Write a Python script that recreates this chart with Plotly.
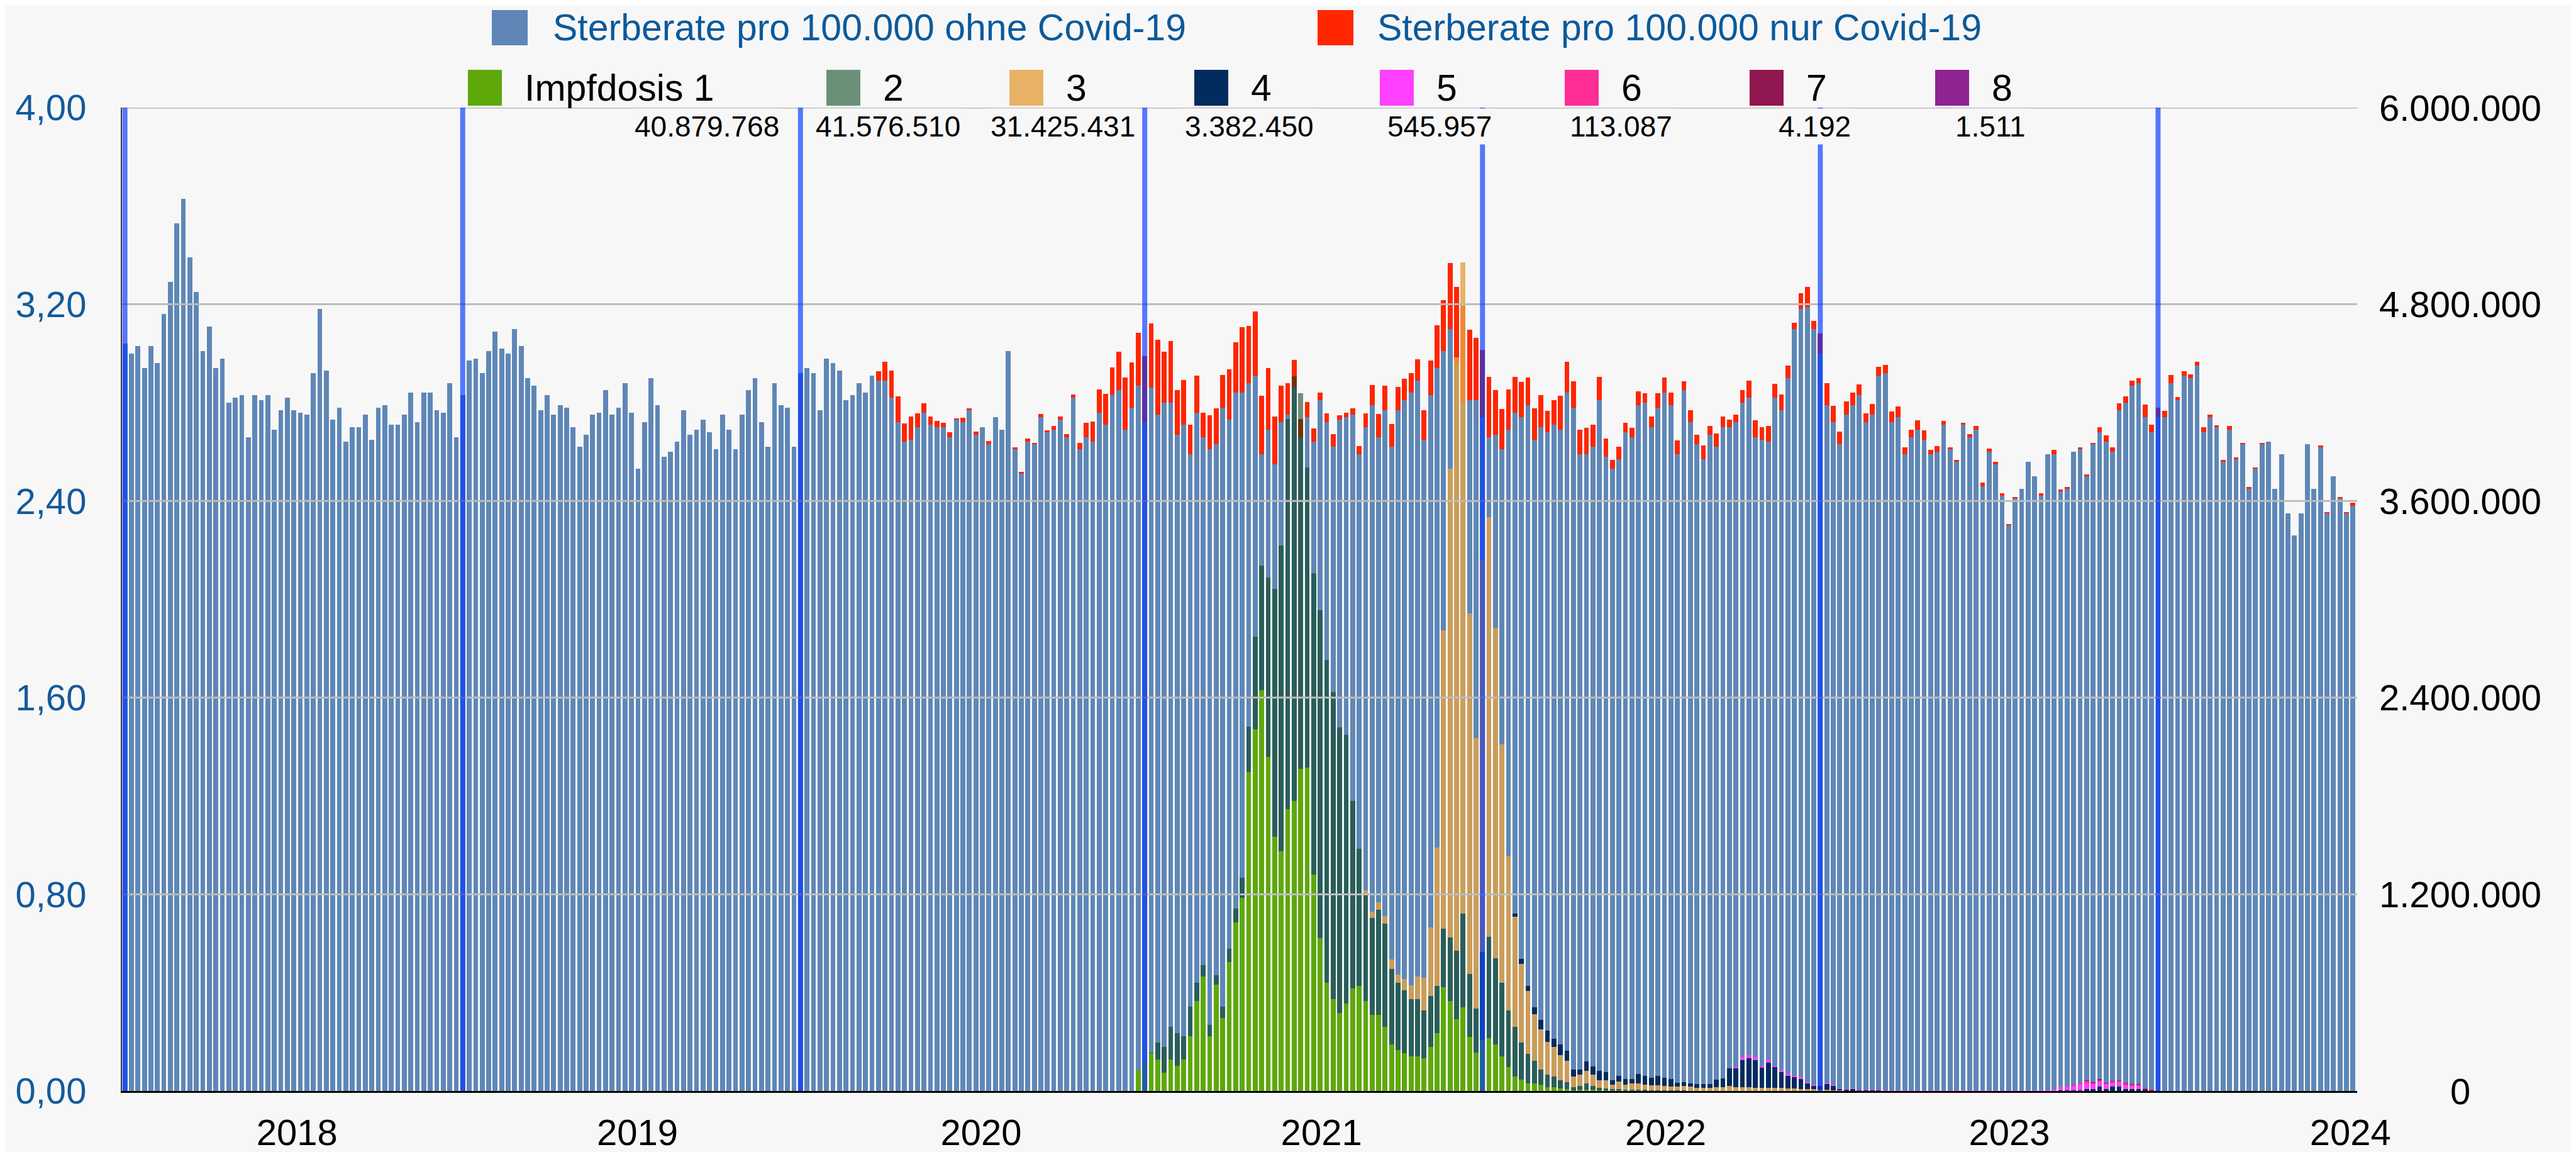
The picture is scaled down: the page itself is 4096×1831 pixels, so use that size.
import plotly.graph_objects as go

# ---------------- data ----------------
# weekly death rate per 100,000 without Covid-19 (week index 0 = first week of 2018)
sterberate_ohne = [
    3.04, 3.00, 3.03, 2.94, 3.03, 2.96, 3.16, 3.29, 3.53, 3.63,
    3.39, 3.25, 3.01, 3.11, 2.94, 2.98, 2.80, 2.82, 2.83, 2.66,
    2.83, 2.81, 2.83, 2.69, 2.77, 2.82, 2.77, 2.76, 2.75, 2.92,
    3.18, 2.93, 2.73, 2.78, 2.64, 2.70, 2.70, 2.75, 2.65, 2.78,
    2.79, 2.71, 2.71, 2.75, 2.84, 2.72, 2.84, 2.84, 2.77, 2.76,
    2.88, 2.66, 2.83, 2.97, 2.98, 2.92, 3.01, 3.09, 3.02, 3.00,
    3.10, 3.03, 2.90, 2.87, 2.77, 2.83, 2.75, 2.79, 2.78, 2.70,
    2.62, 2.67, 2.75, 2.76, 2.85, 2.75, 2.78, 2.88, 2.76, 2.53,
    2.72, 2.90, 2.79, 2.58, 2.60, 2.64, 2.77, 2.67, 2.69, 2.73,
    2.68, 2.61, 2.75, 2.69, 2.61, 2.75, 2.85, 2.90, 2.72, 2.62,
    2.88, 2.79, 2.78, 2.62, 2.92, 2.94, 2.92, 2.77, 2.98, 2.96,
    2.93, 2.81, 2.83, 2.88, 2.84, 2.91, 2.89, 2.89, 2.82, 2.72,
    2.64, 2.65, 2.70, 2.76, 2.71, 2.70, 2.70, 2.66, 2.73, 2.72,
    2.77, 2.67, 2.70, 2.63, 2.74, 2.69, 3.01, 2.61, 2.51, 2.64,
    2.63, 2.74, 2.68, 2.69, 2.73, 2.66, 2.82, 2.61, 2.66, 2.64,
    2.76, 2.71, 2.83, 2.85, 2.69, 2.78, 2.87, 2.72, 2.86, 2.75,
    2.80, 2.80, 2.67, 2.71, 2.59, 2.76, 2.66, 2.61, 2.63, 2.78,
    2.73, 2.84, 2.84, 2.88, 2.91, 2.59, 2.69, 2.55, 2.72, 2.75,
    2.86, 2.66, 2.74, 2.64, 2.81, 2.72, 2.62, 2.73, 2.74, 2.75,
    2.59, 2.70, 2.79, 2.66, 2.77, 2.62, 2.77, 2.81, 2.84, 2.89,
    2.65, 2.83, 2.94, 3.01, 3.10, 2.95, 2.80, 2.81, 2.81, 2.74,
    2.66, 2.67, 2.61, 2.69, 2.76, 2.74, 2.79, 2.65, 2.70, 2.68,
    2.71, 2.69, 2.84, 2.78, 2.59, 2.59, 2.62, 2.81, 2.58, 2.53,
    2.57, 2.68, 2.66, 2.79, 2.80, 2.70, 2.78, 2.84, 2.79, 2.59,
    2.85, 2.72, 2.63, 2.57, 2.67, 2.62, 2.70, 2.70, 2.72, 2.80,
    2.82, 2.66, 2.65, 2.64, 2.82, 2.77, 2.90, 3.10, 3.18, 3.19,
    3.10, 3.00, 2.79, 2.72, 2.63, 2.75, 2.79, 2.83, 2.72, 2.75,
    2.91, 2.92, 2.72, 2.74, 2.59, 2.66, 2.69, 2.65, 2.59, 2.60,
    2.71, 2.61, 2.56, 2.71, 2.66, 2.69, 2.46, 2.60, 2.55, 2.42,
    2.30, 2.41, 2.45, 2.56, 2.50, 2.42, 2.59, 2.59, 2.44, 2.45,
    2.60, 2.61, 2.50, 2.63, 2.68, 2.64, 2.60, 2.77, 2.80, 2.87,
    2.88, 2.74, 2.68, 2.74, 2.74, 2.88, 2.81, 2.91, 2.90, 2.95,
    2.68, 2.74, 2.70, 2.56, 2.69, 2.57, 2.63, 2.45, 2.53, 2.63,
    2.64, 2.45, 2.59, 2.35, 2.26, 2.35, 2.63, 2.45, 2.62, 2.35,
    2.50, 2.41, 2.35, 2.38,
]

# weekly death rate per 100,000 only Covid-19, starting at week index 116
covid_start = 116
sterberate_covid = [
    0.038, 0.075, 0.111, 0.105,
    0.075, 0.093, 0.056, 0.037, 0.033, 0.026, 0.019, 0.019, 0.007, 0.018,
    0.007, 0.013, 0.0, 0.013, 0.0, 0.0, 0.0, 0.008, 0.007, 0.014,
    0.007, 0.013, 0.007, 0.015, 0.014, 0.012, 0.013, 0.025, 0.057, 0.083,
    0.094, 0.126, 0.113, 0.157, 0.213, 0.183, 0.213, 0.269, 0.262, 0.306,
    0.206, 0.251, 0.181, 0.181, 0.119, 0.150, 0.100, 0.138, 0.146, 0.132,
    0.206, 0.205, 0.268, 0.232, 0.261, 0.238, 0.251, 0.194, 0.149, 0.130,
    0.113, 0.074, 0.063, 0.056, 0.031, 0.037, 0.051, 0.019, 0.020, 0.026,
    0.032, 0.056, 0.081, 0.094, 0.100, 0.092, 0.093, 0.086, 0.081, 0.087,
    0.119, 0.141, 0.175, 0.206, 0.268, 0.320, 0.393, 0.287, 0.254, 0.275,
    0.244, 0.181, 0.164, 0.164, 0.145, 0.143, 0.111, 0.126, 0.130, 0.087,
    0.101, 0.139, 0.126, 0.108, 0.100, 0.108, 0.089, 0.094, 0.073, 0.036,
    0.050, 0.038, 0.038, 0.056, 0.038, 0.044, 0.057, 0.062, 0.051, 0.056,
    0.038, 0.049, 0.039, 0.055, 0.036, 0.055, 0.044, 0.030, 0.030, 0.051,
    0.070, 0.068, 0.051, 0.064, 0.057, 0.062, 0.052, 0.025, 0.064, 0.081,
    0.032, 0.081, 0.088, 0.068, 0.052, 0.056, 0.051, 0.045, 0.037, 0.045,
    0.036, 0.033, 0.043, 0.044, 0.027, 0.030, 0.037, 0.036, 0.019, 0.024,
    0.015, 0.008, 0.006, 0.008, 0.012, 0.015, 0.014, 0.013, 0.008, 0.010,
    0.007, 0.006, 0.0, 0.0, 0.0, 0.010, 0.0, 0.019, 0.006, 0.006,
    0.0, 0.008, 0.007, 0.007, 0.019, 0.026, 0.019, 0.026, 0.026, 0.019,
    0.019, 0.051, 0.030, 0.039, 0.026, 0.033, 0.012, 0.018, 0.014, 0.015,
    0.019, 0.012, 0.007, 0.006, 0.015, 0.007, 0.007, 0.006, 0.007, 0.007,
    0.0, 0.0, 0.0, 0.0, 0.0, 0.0, 0.0, 0.0, 0.005, 0.005,
    0.0, 0.006, 0.005, 0.013,
]

# weekly vaccine doses (millions), each with its first week index
impf1_start = 156
impf1 = [
    0.127, 0.17, 0.23, 0.192, 0.11, 0.192, 0.155, 0.192, 0.333, 0.55,
    0.70, 0.333, 0.65, 0.447, 0.786, 1.027, 1.178, 1.945, 2.209, 2.444,
    2.038, 1.552, 1.461, 1.721, 1.769, 1.966, 1.973, 1.319, 0.933, 0.66,
    0.559, 0.475, 0.534, 0.626, 0.641, 0.55, 0.465, 0.465, 0.39, 0.286,
    0.25, 0.23, 0.211, 0.211, 0.201, 0.267, 0.352, 0.633, 0.55, 0.437,
    0.51, 0.331, 0.236, 0.31, 0.324, 0.286, 0.211, 0.145, 0.088, 0.07,
    0.048, 0.048, 0.04, 0.024, 0.024, 0.015, 0.012, 0.005, 0.006, 0.008,
    0.006, 0.004, 0.003, 0.002, 0.002, 0.002, 0.002, 0.002,
]
impf2_start = 156
impf2 = [
    0.0, 0.0, 0.005, 0.104, 0.157, 0.198, 0.197, 0.141, 0.18, 0.11,
    0.067, 0.069, 0.056, 0.066, 0.083, 0.085, 0.122, 0.277, 0.563, 0.76,
    1.093, 1.51, 1.866, 2.38, 2.59, 2.29, 1.83, 1.84, 2.0, 1.97,
    1.875, 1.745, 1.64, 1.143, 0.836, 0.656, 0.59, 0.64, 0.63, 0.46,
    0.41, 0.386, 0.348, 0.348, 0.29, 0.311, 0.29, 0.357, 0.386, 0.42,
    0.574, 0.383, 0.267, 0.54, 0.618, 0.524, 0.449, 0.348, 0.302, 0.226,
    0.179, 0.135, 0.092, 0.075, 0.065, 0.05, 0.042, 0.019, 0.024, 0.04,
    0.024, 0.016, 0.014, 0.008, 0.008, 0.006, 0.006, 0.007, 0.006, 0.005,
    0.005, 0.004, 0.003, 0.003, 0.002,
]
impf3_start = 191
impf3 = [
    0.019, 0.038, 0.045, 0.048, 0.056, 0.05, 0.066, 0.085, 0.14, 0.2,
    0.42, 0.845, 1.82, 2.86, 3.62, 3.97, 2.2, 1.65, 2.39, 2.56,
    2.017, 1.457, 0.939, 0.675, 0.479, 0.383, 0.287, 0.243, 0.2, 0.178,
    0.152, 0.129, 0.065, 0.069, 0.074, 0.069, 0.045, 0.048, 0.028, 0.048,
    0.03, 0.037, 0.039, 0.034, 0.028, 0.031, 0.028, 0.025, 0.023, 0.028,
    0.028, 0.02, 0.02, 0.02, 0.023, 0.023, 0.03, 0.023, 0.023, 0.023,
    0.02, 0.02, 0.02, 0.018, 0.018, 0.017, 0.015, 0.012, 0.012, 0.01,
    0.008, 0.006, 0.004, 0.003,
]
impf4_start = 214
impf4 = [
    0.017, 0.031, 0.031, 0.04, 0.057, 0.068, 0.051, 0.067, 0.064, 0.043,
    0.033, 0.058, 0.051, 0.057, 0.05, 0.027, 0.036, 0.036, 0.029, 0.057,
    0.052, 0.048, 0.056, 0.047, 0.044, 0.025, 0.023, 0.019, 0.024, 0.024,
    0.024, 0.047, 0.053, 0.11, 0.118, 0.165, 0.175, 0.168, 0.121, 0.151,
    0.131, 0.098, 0.077, 0.068, 0.062, 0.036, 0.024, 0.024, 0.04, 0.03,
    0.01, 0.008, 0.012, 0.006, 0.006, 0.006, 0.006, 0.002, 0.002, 0.002,
    0.002, 0.001, 0.001, 0.001, 0.001, 0.001, 0.001, 0.001, 0.001, 0.001,
    0.001, 0.001, 0.001, 0.001, 0.001, 0.001, 0.001, 0.001, 0.001, 0.001,
    0.001, 0.001, 0.001, 0.002, 0.003, 0.004, 0.005, 0.005, 0.013, 0.013,
    0.027, 0.013, 0.027, 0.027, 0.013, 0.013, 0.013, 0.013, 0.005,
]
impf5_start = 248
impf5 = [
    0.005, 0.02, 0.02, 0.02, 0.013, 0.02, 0.005, 0.009, 0.012, 0.009,
    0.013, 0.004, 0.003, 0.002, 0.001, 0.001, 0.001, 0.001, 0.001, 0.001,
    0.001, 0.001, 0.001, 0.001, 0.001, 0.001, 0.001, 0.001, 0.001, 0.001,
    0.001, 0.001, 0.001, 0.001, 0.001, 0.001, 0.001, 0.001, 0.001, 0.001,
    0.001, 0.001, 0.001, 0.001, 0.001, 0.001, 0.002, 0.002, 0.003, 0.006,
    0.022, 0.022, 0.028, 0.04, 0.035, 0.028, 0.03, 0.03, 0.024, 0.026,
    0.022, 0.02, 0.018,
]
impf6_start = 300
impf6 = [0.002, 0.005, 0.014, 0.01, 0.012, 0.006, 0.009, 0.009, 0.013, 0.006, 0.008, 0.006, 0.004]
impf7_start = 302
impf7 = [0.0004, 0.0006, 0.0006, 0.0006, 0.0006, 0.0005, 0.0004, 0.0004, 0.0003]
impf8_start = 304
impf8 = [0.0002, 0.0003, 0.0003, 0.0003, 0.0002, 0.0002]

dosis_labels = ["Impfdosis 1", "2", "3", "4", "5", "6", "7", "8"]
dosis_totals = ["40.879.768", "41.576.510", "31.425.431", "3.382.450",
                "545.957", "113.087", "4.192", "1.511"]
series_labels = ["Sterberate pro 100.000 ohne Covid-19", "Sterberate pro 100.000 nur Covid-19"]

year_labels = ["2018", "2019", "2020", "2021", "2022", "2023", "2024"]
year_label_pos = [26.5, 78.9, 131.8, 184.2, 237.2, 290.1, 342.6]
year_start_weeks = [0, 52, 104, 157, 209, 261, 313]

left_ticks = [0, 0.8, 1.6, 2.4, 3.2, 4.0]
right_ticks = [0, 1.2, 2.4, 3.6, 4.8, 6.0]          # millions
right_tick_labels = ["0", "1.200.000", "2.400.000", "3.600.000", "4.800.000", "6.000.000"]

# ---------------- styling ----------------
OFF = 8                      # default page body margin
W, H = 4096 - OFF, 1831 - OFF
# plot area in window pixels
PL, PR, PT, PB = 194, 3748, 171, 1734
L, R, T, B = PL - OFF, PR - OFF, PT - OFF, PB - OFF
BG = "#f7f7f7"
FONT = "Liberation Sans, Arial, Helvetica, sans-serif"
C_BLUE = "#5e87b7"
C_RED = "#ff2600"
dose_bar_colors = ["#5ea80a", "rgba(0,63,17,0.56)", "rgba(228,162,68,0.81)", "#022b5e",
                   "#ff40ff", "#ff2d96", "#90174f", "#8f2391"]
dose_legend_colors = ["#5ea80a", "#6a9177", "#e8b266", "#022b5e",
                      "#ff40ff", "#ff2d96", "#90174f", "#8f2391"]


def px_x(p):
    return (p - PL) / (PR - PL)


def px_y(p):
    return (PB - p) / (PB - PT)


n = len(sterberate_ohne)
weeks = list(range(n))
covid_full = [0.0] * covid_start + sterberate_covid

fig = go.Figure()
fig.add_trace(go.Bar(x=weeks, y=sterberate_ohne, name=series_labels[0],
                     marker=dict(color=C_BLUE, line=dict(width=0)), yaxis="y"))
fig.add_trace(go.Bar(x=weeks, y=covid_full, name=series_labels[1],
                     marker=dict(color=C_RED, line=dict(width=0)), yaxis="y"))

doses = [(impf1_start, impf1), (impf2_start, impf2), (impf3_start, impf3), (impf4_start, impf4),
         (impf5_start, impf5), (impf6_start, impf6), (impf7_start, impf7), (impf8_start, impf8)]
for i, (start, vals) in enumerate(doses):
    fig.add_trace(go.Bar(x=list(range(start, start + len(vals))), y=vals,
                         name=dosis_labels[i], yaxis="y2",
                         marker=dict(color=dose_bar_colors[i], line=dict(width=0))))

shapes = []
# horizontal gridlines drawn above the bars
for v in left_ticks[1:]:
    shapes.append(dict(type="line", xref="paper", x0=0, x1=1, yref="y", y0=v, y1=v,
                       line=dict(color="#bcbcbc", width=3), layer="above"))
# vertical year lines
for wk in year_start_weeks:
    shapes.append(dict(type="line", xref="x", x0=wk, x1=wk, yref="paper", y0=0, y1=1,
                       line=dict(color="rgba(0,53,255,0.66)", width=8), layer="above"))

annotations = []
# legend row 1
row1_sw = [782, 2095]
row1_tx = [877, 2188]
for i, col in enumerate([C_BLUE, C_RED]):
    shapes.append(dict(type="rect", xref="paper", yref="paper",
                       x0=px_x(row1_sw[i]), x1=px_x(row1_sw[i] + 57),
                       y0=px_y(72), y1=px_y(16), fillcolor=col, line=dict(width=0)))
    annotations.append(dict(xref="paper", yref="paper", x=px_x(row1_tx[i]), y=px_y(44),
                            text=series_labels[i], showarrow=False, xanchor="left", yanchor="middle",
                            font=dict(family=FONT, size=59, color="#0d5a9a")))
# legend row 2
row2_sw = [744, 1314, 1605, 1899, 2194, 2488, 2782, 3077]
row2_num_right = [1242, 1530, 1808, 2092, 2375, 2662, 2946, 3224]
for i in range(8):
    shapes.append(dict(type="rect", xref="paper", yref="paper",
                       x0=px_x(row2_sw[i]), x1=px_x(row2_sw[i] + 54),
                       y0=px_y(168), y1=px_y(111), fillcolor=dose_legend_colors[i], line=dict(width=0)))
    annotations.append(dict(xref="paper", yref="paper", x=px_x(row2_sw[i] + 88), y=px_y(140),
                            text=dosis_labels[i], showarrow=False, xanchor="left", yanchor="middle",
                            font=dict(family=FONT, size=59, color="#000000")))
    annotations.append(dict(xref="paper", yref="paper", x=px_x(row2_num_right[i]), y=px_y(201),
                            text=dosis_totals[i], showarrow=False, xanchor="right", yanchor="middle",
                            bgcolor=BG, borderpad=2,
                            font=dict(family=FONT, size=46, color="#000000")))
# right axis labels (centered)
for v, lab in zip(right_ticks, right_tick_labels):
    annotations.append(dict(xref="paper", yref="y2", x=px_x(3912), y=v, text=lab,
                            showarrow=False, xanchor="center", yanchor="middle",
                            font=dict(family=FONT, size=58, color="#000000")))

fig.update_layout(
    width=W, height=H, autosize=False,
    paper_bgcolor=BG, plot_bgcolor=BG,
    margin=dict(l=L, r=W - R, t=T, b=H - B, pad=0, autoexpand=False),
    barmode="stack", bargap=0.25,
    separators=",.",
    showlegend=False,
    font=dict(family=FONT, size=58, color="#000000"),
    xaxis=dict(range=[-0.45, 343.65], tickmode="array", tickvals=year_label_pos, ticktext=year_labels,
               showgrid=False, zeroline=False, showline=True, linecolor="#000000", linewidth=3,
               ticks="", tickfont=dict(family=FONT, size=58, color="#000000"),
               ticklabelstandoff=13, layer="above traces", fixedrange=True, automargin=False),
    yaxis=dict(range=[0, 4], tickmode="array", tickvals=left_ticks, tickformat=".2f",
               showgrid=False, zeroline=False, showline=True, linecolor="#3a3a3a", linewidth=2,
               ticks="", tickfont=dict(family=FONT, size=58, color="#145a9c"),
               ticklabelstandoff=43, layer="above traces", fixedrange=True, automargin=False),
    yaxis2=dict(range=[0, 6], overlaying="y", side="right", showticklabels=False,
                showgrid=False, zeroline=False, showline=False, fixedrange=True, automargin=False),
    shapes=shapes,
    annotations=annotations,
)

fig.write_html("out.html", config={"displayModeBar": False})
